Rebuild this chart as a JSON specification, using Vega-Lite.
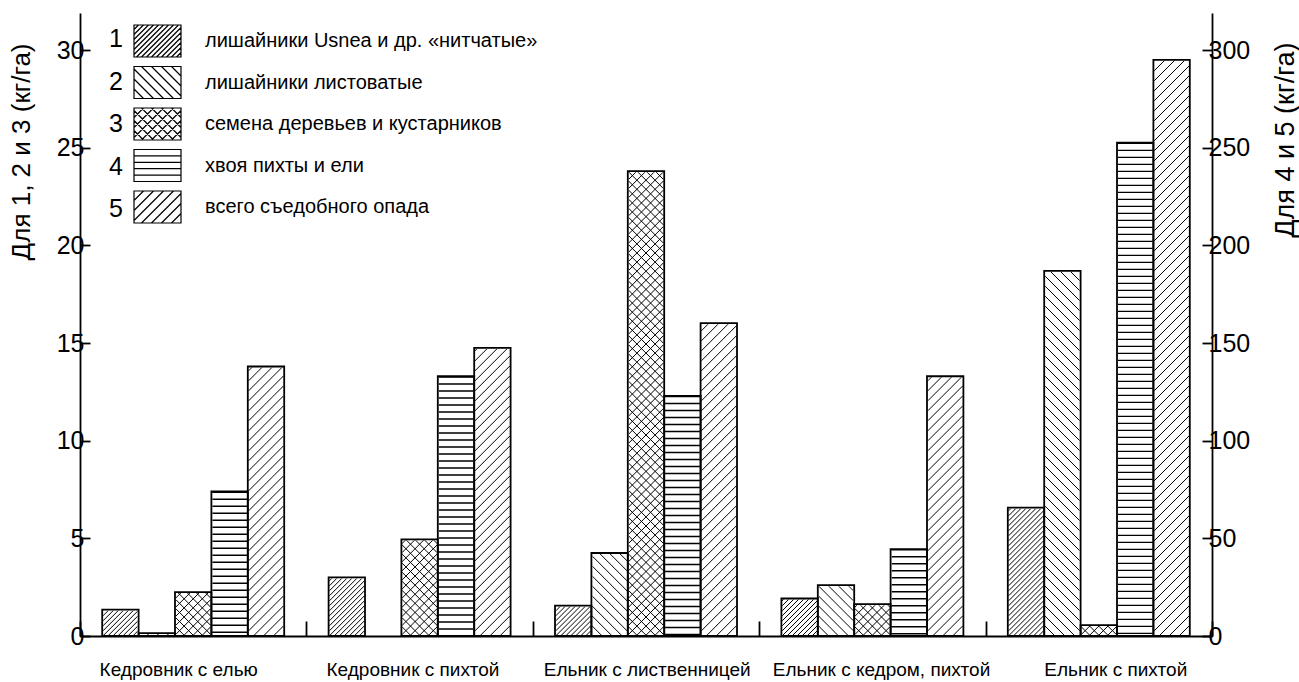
{
  "$schema": "https://vega.github.io/schema/vega-lite/v6.json",
  "width": 1132,
  "height": 623,
  "autosize": {"type": "none"},
  "padding": {"left": 80, "top": 13, "right": 87, "bottom": 46},
  "background": "white",
  "config": {
    "font": "Liberation Sans",
    "view": {"stroke": null},
    "axis": {"domainColor": "black", "domainWidth": 1.8, "tickColor": "black", "tickWidth": 1.8, "labelColor": "black", "titleColor": "black", "grid": false, "titleFontWeight": "normal", "zindex": 1},
    "legend": {"labelColor": "black"}
  },
  "data": {"values": [
    {"group": "Кедровник с елью", "series": "1", "name": "лишайники Usnea и др. «нитчатые»", "value": 1.35},
    {"group": "Кедровник с елью", "series": "2", "name": "лишайники листоватые", "value": 0.15},
    {"group": "Кедровник с елью", "series": "3", "name": "семена деревьев и кустарников", "value": 2.25},
    {"group": "Кедровник с елью", "series": "4", "name": "хвоя пихты и ели", "value": 74},
    {"group": "Кедровник с елью", "series": "5", "name": "всего съедобного опада", "value": 138},
    {"group": "Кедровник с пихтой", "series": "1", "name": "лишайники Usnea и др. «нитчатые»", "value": 3.0},
    {"group": "Кедровник с пихтой", "series": "3", "name": "семена деревьев и кустарников", "value": 4.95},
    {"group": "Кедровник с пихтой", "series": "4", "name": "хвоя пихты и ели", "value": 133},
    {"group": "Кедровник с пихтой", "series": "5", "name": "всего съедобного опада", "value": 147.5},
    {"group": "Ельник с лиственницей", "series": "1", "name": "лишайники Usnea и др. «нитчатые»", "value": 1.56},
    {"group": "Ельник с лиственницей", "series": "2", "name": "лишайники листоватые", "value": 4.25},
    {"group": "Ельник с лиственницей", "series": "3", "name": "семена деревьев и кустарников", "value": 23.8},
    {"group": "Ельник с лиственницей", "series": "4", "name": "хвоя пихты и ели", "value": 123},
    {"group": "Ельник с лиственницей", "series": "5", "name": "всего съедобного опада", "value": 160.2},
    {"group": "Ельник с кедром, пихтой", "series": "1", "name": "лишайники Usnea и др. «нитчатые»", "value": 1.92},
    {"group": "Ельник с кедром, пихтой", "series": "2", "name": "лишайники листоватые", "value": 2.6},
    {"group": "Ельник с кедром, пихтой", "series": "3", "name": "семена деревьев и кустарников", "value": 1.63},
    {"group": "Ельник с кедром, пихтой", "series": "4", "name": "хвоя пихты и ели", "value": 44.5},
    {"group": "Ельник с кедром, пихтой", "series": "5", "name": "всего съедобного опада", "value": 133},
    {"group": "Ельник с пихтой", "series": "1", "name": "лишайники Usnea и др. «нитчатые»", "value": 6.57},
    {"group": "Ельник с пихтой", "series": "2", "name": "лишайники листоватые", "value": 18.7},
    {"group": "Ельник с пихтой", "series": "3", "name": "семена деревьев и кустарников", "value": 0.56},
    {"group": "Ельник с пихтой", "series": "4", "name": "хвоя пихты и ели", "value": 252.6},
    {"group": "Ельник с пихтой", "series": "5", "name": "всего съедобного опада", "value": 295}
  ]},
  "encoding": {
    "x": {
      "field": "group", "type": "nominal",
      "sort": ["Кедровник с елью", "Кедровник с пихтой", "Ельник с лиственницей", "Ельник с кедром, пихтой", "Ельник с пихтой"],
      "scale": {"paddingInner": 0, "paddingOuter": 0},
      "axis": {"title": null, "labelAngle": 0, "tickBand": "extent", "tickSize": -15, "labelPadding": 39, "labelFontSize": 19, "labelLimit": 400, "labelOffset": {"expr": "-15 + 31.5 * datum.index"}}
    },
    "xOffset": {"field": "series", "type": "nominal", "sort": ["1", "2", "3", "4", "5"], "scale": {"domain": ["1", "2", "3", "4", "5"], "paddingInner": 0, "paddingOuter": 0.61}}
  },
  "layer": [
    {
      "transform": [{"filter": "datum.series == '1'"}],
      "mark": {"type": "point", "size": 4, "filled": false, "stroke": "black", "strokeWidth": 1, "opacity": 1, "clip": true,
        "shape": "M-17.4,34.8l34.8,-34.8m-34.8,29.8l34.8,-34.8m-34.8,29.8l34.8,-34.8m-34.8,29.8l34.8,-34.8m-34.8,29.8l34.8,-34.8m-34.8,29.8l34.8,-34.8m-34.8,29.8l34.8,-34.8m-34.8,29.8l34.8,-34.8m-34.8,29.8l34.8,-34.8m-34.8,29.8l34.8,-34.8m-34.8,29.8l34.8,-34.8m-34.8,29.8l34.8,-34.8m-34.8,29.8l34.8,-34.8m-34.8,29.8l34.8,-34.8m-34.8,29.8l34.8,-34.8m-34.8,29.8l34.8,-34.8m-34.8,29.8l34.8,-34.8m-34.8,29.8l34.8,-34.8m-34.8,29.8l34.8,-34.8m-34.8,29.8l34.8,-34.8m-34.8,29.8l34.8,-34.8m-34.8,29.8l34.8,-34.8m-34.8,29.8l34.8,-34.8m-34.8,29.8l34.8,-34.8m-34.8,29.8l34.8,-34.8m-34.8,29.8l34.8,-34.8m-34.8,29.8l34.8,-34.8m-34.8,29.8l34.8,-34.8m-34.8,29.8l34.8,-34.8m-34.8,29.8l34.8,-34.8m-34.8,29.8l34.8,-34.8m-34.8,29.8l34.8,-34.8m-34.8,29.8l34.8,-34.8m-34.8,29.8l34.8,-34.8m-34.8,29.8l34.8,-34.8m-34.8,29.8l34.8,-34.8m-34.8,29.8l34.8,-34.8m-34.8,29.8l34.8,-34.8m-34.8,29.8l34.8,-34.8m-34.8,29.8l34.8,-34.8m-34.8,29.8l34.8,-34.8m-34.8,29.8l34.8,-34.8m-34.8,29.8l34.8,-34.8m-34.8,29.8"},
      "encoding": {"y": {"datum": 0, "type": "quantitative", "scale": {"domain": [0, 31.9], "nice": false}, "axis": null}}
    },
    {
      "transform": [{"filter": "datum.series == '2'"}],
      "mark": {"type": "point", "size": 4, "filled": false, "stroke": "black", "strokeWidth": 1, "opacity": 1, "clip": true,
        "shape": "M-17.4,0l34.8,34.8m-34.8,-44.8l34.8,34.8m-34.8,-44.8l34.8,34.8m-34.8,-44.8l34.8,34.8m-34.8,-44.8l34.8,34.8m-34.8,-44.8l34.8,34.8m-34.8,-44.8l34.8,34.8m-34.8,-44.8l34.8,34.8m-34.8,-44.8l34.8,34.8m-34.8,-44.8l34.8,34.8m-34.8,-44.8l34.8,34.8m-34.8,-44.8l34.8,34.8m-34.8,-44.8l34.8,34.8m-34.8,-44.8l34.8,34.8m-34.8,-44.8l34.8,34.8m-34.8,-44.8l34.8,34.8m-34.8,-44.8l34.8,34.8m-34.8,-44.8l34.8,34.8m-34.8,-44.8l34.8,34.8m-34.8,-44.8l34.8,34.8m-34.8,-44.8l34.8,34.8m-34.8,-44.8l34.8,34.8m-34.8,-44.8l34.8,34.8m-34.8,-44.8l34.8,34.8m-34.8,-44.8l34.8,34.8m-34.8,-44.8l34.8,34.8m-34.8,-44.8l34.8,34.8m-34.8,-44.8l34.8,34.8m-34.8,-44.8l34.8,34.8m-34.8,-44.8l34.8,34.8m-34.8,-44.8l34.8,34.8m-34.8,-44.8l34.8,34.8m-34.8,-44.8l34.8,34.8m-34.8,-44.8l34.8,34.8m-34.8,-44.8l34.8,34.8m-34.8,-44.8l34.8,34.8m-34.8,-44.8l34.8,34.8m-34.8,-44.8l34.8,34.8m-34.8,-44.8l34.8,34.8m-34.8,-44.8l34.8,34.8m-34.8,-44.8"},
      "encoding": {"y": {"datum": 0, "type": "quantitative", "scale": {"domain": [0, 31.9], "nice": false}, "axis": null}}
    },
    {
      "transform": [{"filter": "datum.series == '3'"}],
      "mark": {"type": "point", "size": 4, "filled": false, "stroke": "black", "strokeWidth": 1, "opacity": 1, "clip": true,
        "shape": "M-17.4,34.8l34.8,-34.8m-34.8,25.7l34.8,-34.8m-34.8,25.7l34.8,-34.8m-34.8,25.7l34.8,-34.8m-34.8,25.7l34.8,-34.8m-34.8,25.7l34.8,-34.8m-34.8,25.7l34.8,-34.8m-34.8,25.7l34.8,-34.8m-34.8,25.7l34.8,-34.8m-34.8,25.7l34.8,-34.8m-34.8,25.7l34.8,-34.8m-34.8,25.7l34.8,-34.8m-34.8,25.7l34.8,-34.8m-34.8,25.7l34.8,-34.8m-34.8,25.7l34.8,-34.8m-34.8,25.7l34.8,-34.8m-34.8,25.7l34.8,-34.8m-34.8,25.7l34.8,-34.8m-34.8,25.7l34.8,-34.8m-34.8,25.7l34.8,-34.8m-34.8,25.7l34.8,-34.8m-34.8,25.7l34.8,-34.8m-34.8,25.7l34.8,-34.8m-34.8,25.7l34.8,-34.8m-34.8,25.7l34.8,-34.8m-34.8,25.7l34.8,-34.8m-34.8,25.7l34.8,-34.8m-34.8,25.7l34.8,-34.8m-34.8,25.7l34.8,-34.8m-34.8,25.7l34.8,-34.8m-34.8,25.7l34.8,-34.8m-34.8,25.7l34.8,-34.8m-34.8,25.7l34.8,-34.8m-34.8,25.7l34.8,-34.8m-34.8,25.7l34.8,-34.8m-34.8,25.7l34.8,-34.8m-34.8,25.7l34.8,-34.8m-34.8,25.7l34.8,-34.8m-34.8,25.7l34.8,-34.8m-34.8,25.7l34.8,-34.8m-34.8,25.7l34.8,-34.8m-34.8,25.7l34.8,-34.8m-34.8,25.7l34.8,-34.8m-34.8,25.7l34.8,-34.8m-34.8,25.7l34.8,-34.8m-34.8,25.7l34.8,-34.8m-34.8,25.7l34.8,-34.8m-34.8,25.7l34.8,-34.8m-34.8,25.7l34.8,-34.8m-34.8,25.7l34.8,-34.8m-34.8,25.7l34.8,-34.8m-34.8,25.7l34.8,-34.8m-34.8,25.7l34.8,-34.8m-34.8,25.7l34.8,-34.8m-34.8,25.7l34.8,-34.8m-34.8,25.7l34.8,-34.8m-34.8,25.7l34.8,-34.8m-34.8,25.7l34.8,-34.8m-34.8,25.7l34.8,-34.8m-34.8,25.7l34.8,-34.8m-34.8,25.7l34.8,-34.8m-34.8,25.7l34.8,-34.8m-34.8,25.7l34.8,-34.8m-34.8,25.7M-17.4,0l34.8,34.8m-34.8,-43.9l34.8,34.8m-34.8,-43.9l34.8,34.8m-34.8,-43.9l34.8,34.8m-34.8,-43.9l34.8,34.8m-34.8,-43.9l34.8,34.8m-34.8,-43.9l34.8,34.8m-34.8,-43.9l34.8,34.8m-34.8,-43.9l34.8,34.8m-34.8,-43.9l34.8,34.8m-34.8,-43.9l34.8,34.8m-34.8,-43.9l34.8,34.8m-34.8,-43.9l34.8,34.8m-34.8,-43.9l34.8,34.8m-34.8,-43.9l34.8,34.8m-34.8,-43.9l34.8,34.8m-34.8,-43.9l34.8,34.8m-34.8,-43.9l34.8,34.8m-34.8,-43.9l34.8,34.8m-34.8,-43.9l34.8,34.8m-34.8,-43.9l34.8,34.8m-34.8,-43.9l34.8,34.8m-34.8,-43.9l34.8,34.8m-34.8,-43.9l34.8,34.8m-34.8,-43.9l34.8,34.8m-34.8,-43.9l34.8,34.8m-34.8,-43.9l34.8,34.8m-34.8,-43.9l34.8,34.8m-34.8,-43.9l34.8,34.8m-34.8,-43.9l34.8,34.8m-34.8,-43.9l34.8,34.8m-34.8,-43.9l34.8,34.8m-34.8,-43.9l34.8,34.8m-34.8,-43.9l34.8,34.8m-34.8,-43.9l34.8,34.8m-34.8,-43.9l34.8,34.8m-34.8,-43.9l34.8,34.8m-34.8,-43.9l34.8,34.8m-34.8,-43.9l34.8,34.8m-34.8,-43.9l34.8,34.8m-34.8,-43.9l34.8,34.8m-34.8,-43.9l34.8,34.8m-34.8,-43.9l34.8,34.8m-34.8,-43.9l34.8,34.8m-34.8,-43.9l34.8,34.8m-34.8,-43.9l34.8,34.8m-34.8,-43.9l34.8,34.8m-34.8,-43.9l34.8,34.8m-34.8,-43.9l34.8,34.8m-34.8,-43.9l34.8,34.8m-34.8,-43.9l34.8,34.8m-34.8,-43.9l34.8,34.8m-34.8,-43.9l34.8,34.8m-34.8,-43.9l34.8,34.8m-34.8,-43.9l34.8,34.8m-34.8,-43.9l34.8,34.8m-34.8,-43.9l34.8,34.8m-34.8,-43.9l34.8,34.8m-34.8,-43.9l34.8,34.8m-34.8,-43.9l34.8,34.8m-34.8,-43.9l34.8,34.8m-34.8,-43.9l34.8,34.8m-34.8,-43.9l34.8,34.8m-34.8,-43.9l34.8,34.8m-34.8,-43.9"},
      "encoding": {"y": {"datum": 0, "type": "quantitative", "scale": {"domain": [0, 31.9], "nice": false}, "axis": null}}
    },
    {
      "transform": [{"filter": "datum.series == '5'"}],
      "mark": {"type": "point", "size": 4, "filled": false, "stroke": "black", "strokeWidth": 1, "opacity": 1, "clip": true,
        "shape": "M-17.4,34.8l34.8,-34.8m-34.8,24.8l34.8,-34.8m-34.8,24.8l34.8,-34.8m-34.8,24.8l34.8,-34.8m-34.8,24.8l34.8,-34.8m-34.8,24.8l34.8,-34.8m-34.8,24.8l34.8,-34.8m-34.8,24.8l34.8,-34.8m-34.8,24.8l34.8,-34.8m-34.8,24.8l34.8,-34.8m-34.8,24.8l34.8,-34.8m-34.8,24.8l34.8,-34.8m-34.8,24.8l34.8,-34.8m-34.8,24.8l34.8,-34.8m-34.8,24.8l34.8,-34.8m-34.8,24.8l34.8,-34.8m-34.8,24.8l34.8,-34.8m-34.8,24.8l34.8,-34.8m-34.8,24.8l34.8,-34.8m-34.8,24.8l34.8,-34.8m-34.8,24.8l34.8,-34.8m-34.8,24.8l34.8,-34.8m-34.8,24.8l34.8,-34.8m-34.8,24.8l34.8,-34.8m-34.8,24.8l34.8,-34.8m-34.8,24.8l34.8,-34.8m-34.8,24.8l34.8,-34.8m-34.8,24.8l34.8,-34.8m-34.8,24.8l34.8,-34.8m-34.8,24.8l34.8,-34.8m-34.8,24.8l34.8,-34.8m-34.8,24.8l34.8,-34.8m-34.8,24.8l34.8,-34.8m-34.8,24.8l34.8,-34.8m-34.8,24.8l34.8,-34.8m-34.8,24.8l34.8,-34.8m-34.8,24.8l34.8,-34.8m-34.8,24.8l34.8,-34.8m-34.8,24.8l34.8,-34.8m-34.8,24.8l34.8,-34.8m-34.8,24.8l34.8,-34.8m-34.8,24.8l34.8,-34.8m-34.8,24.8l34.8,-34.8m-34.8,24.8l34.8,-34.8m-34.8,24.8l34.8,-34.8m-34.8,24.8l34.8,-34.8m-34.8,24.8l34.8,-34.8m-34.8,24.8l34.8,-34.8m-34.8,24.8l34.8,-34.8m-34.8,24.8l34.8,-34.8m-34.8,24.8l34.8,-34.8m-34.8,24.8l34.8,-34.8m-34.8,24.8l34.8,-34.8m-34.8,24.8l34.8,-34.8m-34.8,24.8l34.8,-34.8m-34.8,24.8l34.8,-34.8m-34.8,24.8l34.8,-34.8m-34.8,24.8l34.8,-34.8m-34.8,24.8l34.8,-34.8m-34.8,24.8l34.8,-34.8m-34.8,24.8l34.8,-34.8m-34.8,24.8l34.8,-34.8m-34.8,24.8l34.8,-34.8m-34.8,24.8l34.8,-34.8m-34.8,24.8l34.8,-34.8m-34.8,24.8l34.8,-34.8m-34.8,24.8l34.8,-34.8m-34.8,24.8l34.8,-34.8m-34.8,24.8l34.8,-34.8m-34.8,24.8l34.8,-34.8m-34.8,24.8l34.8,-34.8m-34.8,24.8l34.8,-34.8m-34.8,24.8l34.8,-34.8m-34.8,24.8"},
      "encoding": {"y": {"datum": 0, "type": "quantitative", "scale": {"domain": [0, 319], "nice": false}, "axis": null}}
    },
    {
      "transform": [{"filter": "datum.series == '4'"}],
      "mark": {"type": "rule", "stroke": "black", "strokeWidth": 35, "strokeDash": [1.4, 5.6], "strokeCap": "butt"},
      "encoding": {
        "y": {"field": "value", "type": "quantitative", "scale": {"domain": [0, 319], "nice": false}, "axis": null},
        "y2": {"datum": 0}
      }
    },
    {
      "transform": [{"filter": "datum.series == '1' || datum.series == '2' || datum.series == '3'"}],
      "mark": {"type": "bar", "fill": "white", "stroke": "white", "strokeWidth": 2},
      "encoding": {
        "y": {"field": "value", "type": "quantitative", "scale": {"domain": [0, 31.9], "nice": false}, "axis": null},
        "y2": {"datum": 31.9}
      }
    },
    {
      "transform": [{"filter": "datum.series == '5'"}],
      "mark": {"type": "bar", "fill": "white", "stroke": "white", "strokeWidth": 2},
      "encoding": {
        "y": {"field": "value", "type": "quantitative", "scale": {"domain": [0, 319], "nice": false}, "axis": null},
        "y2": {"datum": 319}
      }
    },
    {
      "transform": [{"filter": "datum.series == '1' || datum.series == '2' || datum.series == '3'"}],
      "mark": {"type": "bar", "fill": "transparent", "stroke": "black", "strokeWidth": 1.8},
      "encoding": {
        "y": {"field": "value", "type": "quantitative", "scale": {"domain": [0, 31.9], "nice": false},
          "axis": {"orient": "left", "values": [0, 5, 10, 15, 20, 25, 30], "tickSize": -10, "labelPadding": 6, "labelFontSize": 25,
            "title": "Для 1, 2 и 3 (кг/га)", "titleFontSize": 26, "titleAngle": 270, "titleX": -59, "titleY": 30, "titleAlign": "right", "titleBaseline": "middle"}}
      }
    },
    {
      "transform": [{"filter": "datum.series == '4' || datum.series == '5'"}],
      "mark": {"type": "bar", "fill": "transparent", "stroke": "black", "strokeWidth": 1.8},
      "encoding": {
        "y": {"field": "value", "type": "quantitative", "scale": {"domain": [0, 319], "nice": false},
          "axis": {"orient": "right", "values": [0, 50, 100, 150, 200, 250, 300], "tickSize": -10, "labelPadding": 6, "labelFontSize": 25,
            "title": "Для 4 и 5 (кг/га)", "titleFontSize": 27, "titleAngle": 270, "titleX": 73, "titleY": 29, "titleAlign": "right", "titleBaseline": "middle"}}
      }
    },
    {
      "mark": {"type": "point", "size": 4, "filled": false, "stroke": "black", "opacity": 0},
      "encoding": {
        "y": {"datum": 0, "type": "quantitative", "scale": {"domain": [0, 31.9], "nice": false}, "axis": null},
        "shape": {
          "field": "name", "type": "nominal",
          "scale": {
            "domain": ["лишайники Usnea и др. «нитчатые»", "лишайники листоватые", "семена деревьев и кустарников", "хвоя пихты и ели", "всего съедобного опада"],
            "range": [
              "M-23.5,-16H23.5V16H-23.5ZM-23.5,-11.5L-19,-16M-23.5,-6.5L-14,-16M-23.5,-1.5L-9,-16M-23.5,3.5L-4,-16M-23.5,8.5L1,-16M-23.5,13.5L6,-16M-21,16L11,-16M-16,16L16,-16M-11,16L21,-16M-6,16L23.5,-13.5M-1,16L23.5,-8.5M4,16L23.5,-3.5M9,16L23.5,1.5M14,16L23.5,6.5M19,16L23.5,11.5",
              "M-23.5,-16H23.5V16H-23.5ZM14,-16L23.5,-6.5M4,-16L23.5,3.5M-6,-16L23.5,13.5M-16,-16L16,16M-23.5,-13.5L6,16M-23.5,-3.5L-4,16M-23.5,6.5L-14,16",
              "M-23.5,-16H23.5V16H-23.5ZM-23.5,-6.5L-14,-16M-23.5,3.5L-4,-16M-23.5,13.5L6,-16M-16,16L16,-16M-6,16L23.5,-13.5M4,16L23.5,-3.5M14,16L23.5,6.5M14,-16L23.5,-6.5M4,-16L23.5,3.5M-6,-16L23.5,13.5M-16,-16L16,16M-23.5,-13.5L6,16M-23.5,-3.5L-4,16M-23.5,6.5L-14,16",
              "M-23.5,-16H23.5V16H-23.5ZM-23.5,-9.6H23.5M-23.5,-3.2H23.5M-23.5,3.2H23.5M-23.5,9.6H23.5",
              "M-23.5,-16H23.5V16H-23.5ZM-23.5,-6.5L-14,-16M-23.5,3.5L-4,-16M-23.5,13.5L6,-16M-16,16L16,-16M-6,16L23.5,-13.5M4,16L23.5,-3.5M14,16L23.5,6.5"
            ]
          },
          "legend": {"orient": "none", "legendX": 67.5, "legendY": 18, "title": null, "padding": 0, "symbolSize": 4, "symbolStrokeColor": "black", "symbolStrokeWidth": 1.2, "symbolFillColor": "transparent", "symbolOpacity": 1, "labelFontSize": 20, "labelOffset": 37.5, "labelLimit": 600, "rowPadding": 3.5}
        },
        "color": {
          "field": "series", "type": "nominal",
          "scale": {"domain": ["1", "2", "3", "4", "5"], "range": ["black", "black", "black", "black", "black"]},
          "legend": {"orient": "none", "legendX": 18, "legendY": 13.5, "title": null, "padding": 0, "symbolSize": 0, "symbolStrokeWidth": 0, "symbolFillColor": "transparent", "symbolStrokeColor": "transparent", "labelFontSize": 25, "labelAlign": "right", "labelOffset": 0, "rowPadding": 16.5}
        }
      }
    }
  ],
  "resolve": {"scale": {"y": "independent"}}
}
